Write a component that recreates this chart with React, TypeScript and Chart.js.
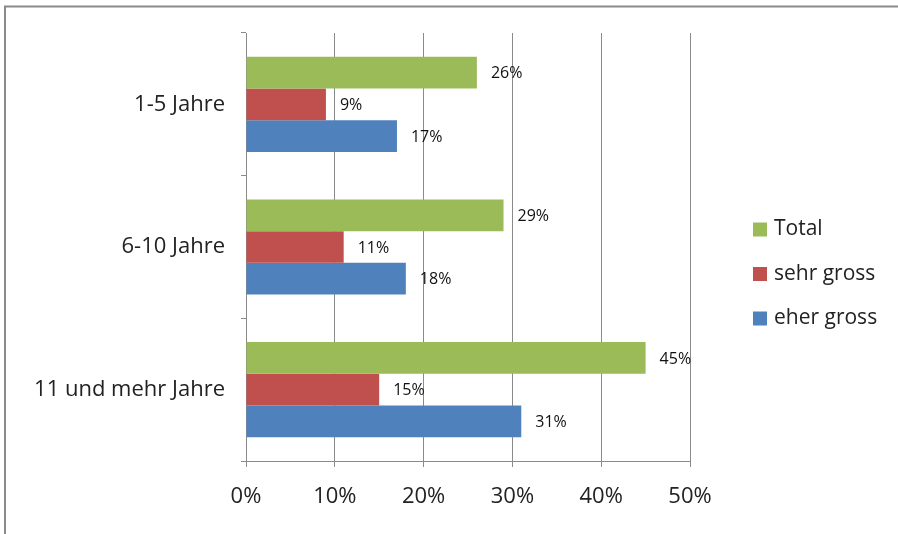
import React, { useEffect, useRef } from "react";
import { Chart, registerables } from "chart.js";

Chart.register(...registerables);

const categories = ["1-5 Jahre", "6-10 Jahre", "11 und mehr Jahre"];
const seriesNames = ["Total", "sehr gross", "eher gross"];
const totalValues = [26, 29, 45];
const sehrGrossValues = [9, 11, 15];
const eherGrossValues = [17, 18, 31];
const seriesColors = ["#9BBB59", "#C0504D", "#4F81BD"];
const xTickValues = [0, 10, 20, 30, 40, 50];

const FONT = "'Open Sans', 'Noto Sans', sans-serif";

const framePlugin = {
  id: "frame",
  beforeDraw(chart: any) {
    const ctx = chart.ctx;
    ctx.save();
    ctx.fillStyle = "#ffffff";
    ctx.fillRect(0, 0, chart.width, chart.height);
    ctx.strokeStyle = "#8a8a8a";
    ctx.lineWidth = 2;
    ctx.beginPath();
    ctx.moveTo(chart.width, 6.5);
    ctx.lineTo(5, 6.5);
    ctx.lineTo(5, chart.height);
    ctx.stroke();
    ctx.restore();
  },
};

const labelPlugin = {
  id: "valueLabels",
  afterDatasetsDraw(chart: any) {
    const ctx = chart.ctx;
    ctx.save();
    ctx.font = `16px ${FONT}`;
    ctx.fillStyle = "#111";
    ctx.textAlign = "left";
    ctx.textBaseline = "middle";
    chart.data.datasets.forEach((ds: any, i: number) => {
      const meta = chart.getDatasetMeta(i);
      meta.data.forEach((bar: any, j: number) => {
        ctx.fillText(`${ds.data[j]}%`, bar.x + 14, bar.y + 1);
      });
    });
    ctx.restore();
  },
};

const legendPlugin = {
  id: "customLegend",
  afterDraw(chart: any) {
    const ctx = chart.ctx;
    const area = chart.chartArea;
    const x0 = area.right + 63;
    const spacing = 44.5;
    const n = chart.data.datasets.length;
    const cy = 274;
    const startY = cy - ((n - 1) * spacing) / 2;
    ctx.save();
    ctx.font = `21px ${FONT}`;
    ctx.textAlign = "left";
    ctx.textBaseline = "middle";
    chart.data.datasets.forEach((ds: any, i: number) => {
      const y = startY + i * spacing;
      ctx.fillStyle = ds.backgroundColor;
      ctx.fillRect(x0, y - 7, 14, 14);
      ctx.fillStyle = "#222";
      ctx.fillText(ds.label, x0 + 21, y);
    });
    ctx.restore();
  },
};

export default function App() {
  const canvasRef = useRef<HTMLCanvasElement | null>(null);

  useEffect(() => {
    if (!canvasRef.current) return;
    const values = [totalValues, sehrGrossValues, eherGrossValues];
    const chart = new Chart(canvasRef.current, {
      type: "bar",
      data: {
        labels: categories,
        datasets: seriesNames.map((name, i) => ({
          label: name,
          data: values[i],
          backgroundColor: seriesColors[i],
          borderWidth: 0,
          categoryPercentage: 0.667,
          barPercentage: 1,
        })),
      },
      options: {
        indexAxis: "y",
        animation: false,
        responsive: false,
        layout: { padding: { top: 33, right: 208, left: 0, bottom: 0 } },
        plugins: {
          legend: { display: false },
          tooltip: { enabled: false },
        },
        scales: {
          x: {
            min: 0,
            max: 50,
            afterBuildTicks: (scale: any) => {
              scale.ticks = xTickValues.map((v) => ({ value: v }));
            },
            afterFit: (scale: any) => {
              scale.height = 73;
            },
            ticks: {
              callback: (v: any) => `${v}%`,
              font: { family: FONT, size: 22 },
              color: "#222",
              padding: 17,
              maxRotation: 0,
            },
            grid: {
              color: "#8a8a8a",
              lineWidth: 1,
              tickLength: 6,
              drawTicks: true,
            },
            border: { color: "#8a8a8a", width: 1 },
          },
          y: {
            afterFit: (scale: any) => {
              scale.width = 246;
            },
            ticks: {
              font: { family: FONT, size: 22 },
              color: "#222",
              padding: 16,
            },
            grid: {
              drawOnChartArea: false,
              drawTicks: true,
              tickLength: 5,
              color: "#8a8a8a",
              offset: true,
            },
            border: { color: "#8a8a8a", width: 1 },
          },
        },
      },
      plugins: [framePlugin, labelPlugin, legendPlugin],
    });
    return () => chart.destroy();
  }, []);

  return (
    <div style={{ position: "fixed", left: 0, top: 0, width: 898, height: 534, background: "#fff" }}>
      <canvas ref={canvasRef} width={898} height={534} style={{ width: 898, height: 534, display: "block" }} />
    </div>
  );
}
